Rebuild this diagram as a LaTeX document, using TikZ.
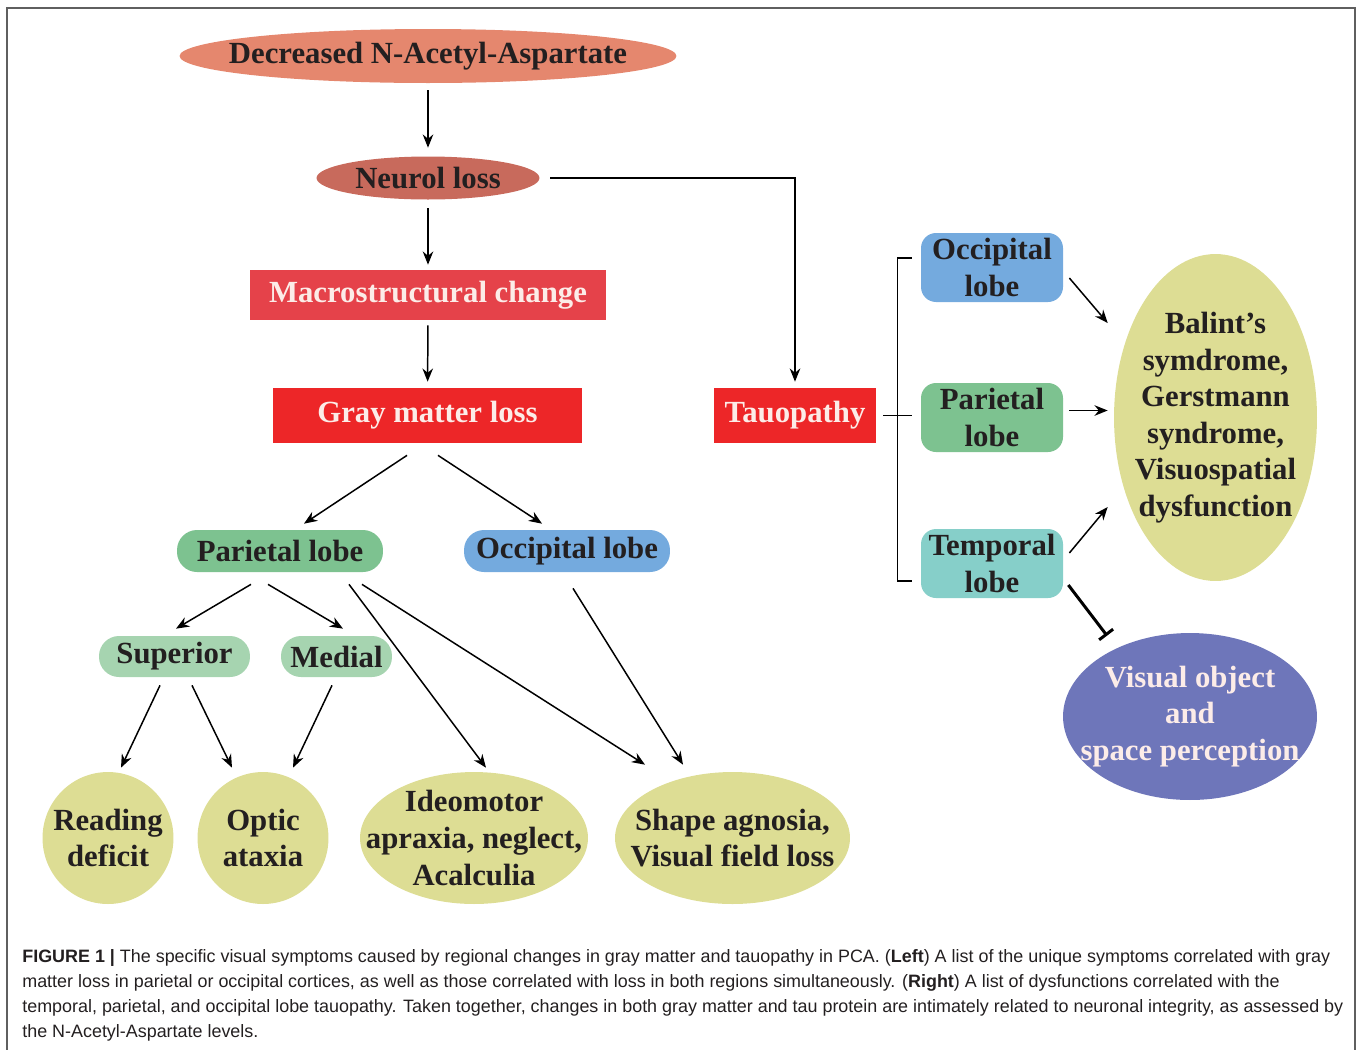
\documentclass[tikz,border=0pt]{standalone}
\usepackage{fontspec}
\setmainfont{Liberation Serif}
\newfontfamily\capfont{Liberation Sans}
\usetikzlibrary{shapes.geometric, arrows.meta, positioning}

\definecolor{naacol}{RGB}{229,135,110}
\definecolor{neurocol}{RGB}{200,106,92}
\definecolor{macrocol}{RGB}{229,66,74}
\definecolor{redbox}{RGB}{237,38,40}
\definecolor{greenlobe}{RGB}{125,194,144}
\definecolor{bluelobe}{RGB}{116,170,222}
\definecolor{subgreen}{RGB}{166,212,176}
\definecolor{teallobe}{RGB}{134,207,201}
\definecolor{khaki}{RGB}{221,221,148}
\definecolor{violet}{RGB}{110,118,186}
\definecolor{darktext}{RGB}{35,31,32}
\definecolor{paletext}{RGB}{252,236,232}
\definecolor{framecol}{RGB}{95,95,95}

\begin{document}
\begin{tikzpicture}[
    x=0.02cm, y=-0.02cm, % 1 unit = 1 pixel of the figure
    base/.style={
      inner sep=0pt,
      align=center,
      text=darktext,
      font=\fontsize{17.5}{20.8}\selectfont\bfseries
    },
    oval/.style={
      base,
      ellipse,
      inner sep=-3cm % size comes from minimum width/height only
    },
    redbox/.style={
      base,
      rectangle,
      fill=redbox,
      text=paletext
    },
    lobe/.style={
      base,
      rectangle,
      rounded corners=0.4cm
    },
    symptom/.style={
      oval,
      fill=khaki
    },
    arrow/.style={
      -{Stealth[length=7.5pt,width=6pt]},
      line width=0.85pt
    },
    inhibit/.style={
      -{Bar[width=10pt]},
      line width=1.7pt
    }
  ]

  \useasboundingbox (0,0) rectangle (1358,1049);

  % Frame
  \draw[framecol, line width=0.8pt] (7,1060) -- (7,8) -- (1355,8) -- (1355,1060);

  % Left column - top
  \node[oval, fill=naacol, minimum width=9.94cm, minimum height=1.08cm] (naa) at (428,56) {Decreased N-Acetyl-Aspartate};
  \node[oval, fill=neurocol, minimum width=4.46cm, minimum height=0.86cm] (neurol) at (428,178) {Neurol loss};
  \node[redbox, fill=macrocol, minimum width=7.12cm, minimum height=1.0cm] (macro) at (428,295) {Macrostructural change};
  \node[redbox, minimum width=6.18cm, minimum height=1.1cm] (gray) at (427.5,415.5) {Gray matter loss};
  \node[redbox, minimum width=3.24cm, minimum height=1.1cm] (tau) at (795,415.5) {Tauopathy};

  % Left column - lobes
  \node[lobe, fill=greenlobe, minimum width=4.12cm, minimum height=0.84cm] (parL) at (280,551) {Parietal lobe};
  \node[lobe, fill=bluelobe, minimum width=4.12cm, minimum height=0.84cm] (occL) at (567,551) {Occipital lobe};
  \node[lobe, fill=subgreen, minimum width=3.02cm, minimum height=0.82cm] (sup) at (174.5,656.5) {Superior};
  \node[lobe, fill=subgreen, minimum width=2.22cm, minimum height=0.82cm] (med) at (336.5,656.5) {Medial};

  % Left column - symptoms
  \node[symptom, minimum width=2.62cm, minimum height=2.64cm] (read) at (108,838) {Reading\\deficit};
  \node[symptom, minimum width=2.62cm, minimum height=2.64cm] (optic) at (263,838) {Optic\\ataxia};
  \node[symptom, minimum width=4.56cm, minimum height=2.64cm] (ideo) at (474,838) {Ideomotor\\apraxia, neglect,\\Acalculia};
  \node[symptom, minimum width=4.7cm, minimum height=2.64cm] (shape) at (732.5,838) {Shape agnosia,\\Visual field loss};

  % Right column
  \node[lobe, rounded corners=0.3cm, fill=bluelobe, minimum width=2.84cm, minimum height=1.38cm] (occR) at (992,267.5) {Occipital\\lobe};
  \node[lobe, rounded corners=0.3cm, fill=greenlobe, minimum width=2.84cm, minimum height=1.38cm] (parR) at (992,417.5) {Parietal\\lobe};
  \node[lobe, rounded corners=0.3cm, fill=teallobe, minimum width=2.84cm, minimum height=1.38cm] (temR) at (992,563.5) {Temporal\\lobe};
  \node[symptom, minimum width=4.06cm, minimum height=6.54cm] (balint) at (1215.5,417.5) {Balint's\\symdrome,\\Gerstmann\\syndrome,\\Visuospatial\\dysfunction};
  \node[oval, fill=violet, text=paletext, minimum width=5.08cm, minimum height=3.34cm] (visobj) at (1190,716.5) {Visual object\\and\\space perception};

  % Arrows - top chain
  \draw[arrow, shorten <=0.14cm, shorten >=0.17cm] (naa) -- (neurol);
  \draw[arrow, shorten <=0.17cm, shorten >=0.1cm] (neurol) -- (macro);
  \draw[arrow, shorten <=0.1cm, shorten >=0.12cm] (macro) -- (gray);
  \draw[arrow] ([xshift=0.21cm]neurol.east) -| ([yshift=0.12cm]tau.north);

  % Arrows - gray matter branch
  \draw[arrow] ([xshift=-0.41cm, yshift=-0.24cm]gray.south) -- ([xshift=0.48cm, yshift=0.12cm]parL.north);
  \draw[arrow] ([xshift=0.21cm, yshift=-0.24cm]gray.south) -- ([xshift=-0.5cm, yshift=0.12cm]occL.north);
  \draw[arrow] ([xshift=-0.58cm, yshift=-0.24cm]parL.south) -- ([xshift=0.03cm, yshift=0.14cm]sup.north);
  \draw[arrow] ([xshift=-0.24cm, yshift=-0.24cm]parL.south) -- ([xshift=0.13cm, yshift=0.14cm]med.north);
  \draw[arrow] ([xshift=1.38cm, yshift=-0.24cm]parL.south) -- ([xshift=0.24cm, yshift=0.08cm]ideo.north);
  \draw[arrow] ([xshift=1.64cm, yshift=-0.24cm]parL.south) -- ([xshift=-1.75cm, yshift=0.14cm]shape.north);
  \draw[arrow] ([xshift=0.12cm, yshift=-0.32cm]occL.south) -- ([xshift=-0.99cm, yshift=0.14cm]shape.north);
  \draw[arrow] ([xshift=-0.29cm, yshift=-0.16cm]sup.south) -- ([xshift=0.26cm, yshift=0.08cm]read.north);
  \draw[arrow] ([xshift=0.35cm, yshift=-0.16cm]sup.south) -- ([xshift=-0.62cm, yshift=0.08cm]optic.north);
  \draw[arrow] ([xshift=-0.09cm, yshift=-0.16cm]med.south) -- ([xshift=0.6cm, yshift=0.08cm]optic.north);

  % Bracket from Tauopathy
  \draw[line width=0.85pt] ([xshift=0.14cm]tau.east) -- ([xshift=-0.18cm]tau.east -| parR.west);
  \draw[line width=0.85pt] ([xshift=-0.18cm, yshift=0.19cm]occR.west) -- ++(-0.28cm,0) |- ([xshift=-0.18cm, yshift=-0.35cm]temR.west);

  % Arrows - right side
  \draw[arrow] ([xshift=0.12cm, yshift=-0.21cm]occR.east) -- ([xshift=-0.12cm, yshift=1.89cm]balint.west);
  \draw[arrow] ([xshift=0.12cm, yshift=0.14cm]parR.east) -- ([xshift=-0.12cm, yshift=0.14cm]balint.west);
  \draw[arrow] ([xshift=0.12cm, yshift=0.21cm]temR.east) -- ([xshift=-0.12cm, yshift=-1.79cm]balint.west);
  \draw[inhibit] ([xshift=0.1cm, yshift=-0.43cm]temR.east) -- ([xshift=-1.66cm, yshift=-0.06cm]visobj.north);

  % Caption
  \node[anchor=north west, inner sep=0pt, align=left, font=\capfont\fontsize{10.2}{14.2}\selectfont, text=darktext] (caption) at (22,949)
    {\textbf{FIGURE 1 |} The specific visual symptoms caused by regional changes in gray matter and tauopathy in PCA. (\textbf{Left}) A list of the unique symptoms correlated with gray\\
     matter loss in parietal or occipital cortices, as well as those correlated with loss in both regions simultaneously. (\textbf{Right}) A list of dysfunctions correlated with the\\
     temporal, parietal, and occipital lobe tauopathy. Taken together, changes in both gray matter and tau protein are intimately related to neuronal integrity, as assessed by\\
     the N-Acetyl-Aspartate levels.};

\end{tikzpicture}
\end{document}
